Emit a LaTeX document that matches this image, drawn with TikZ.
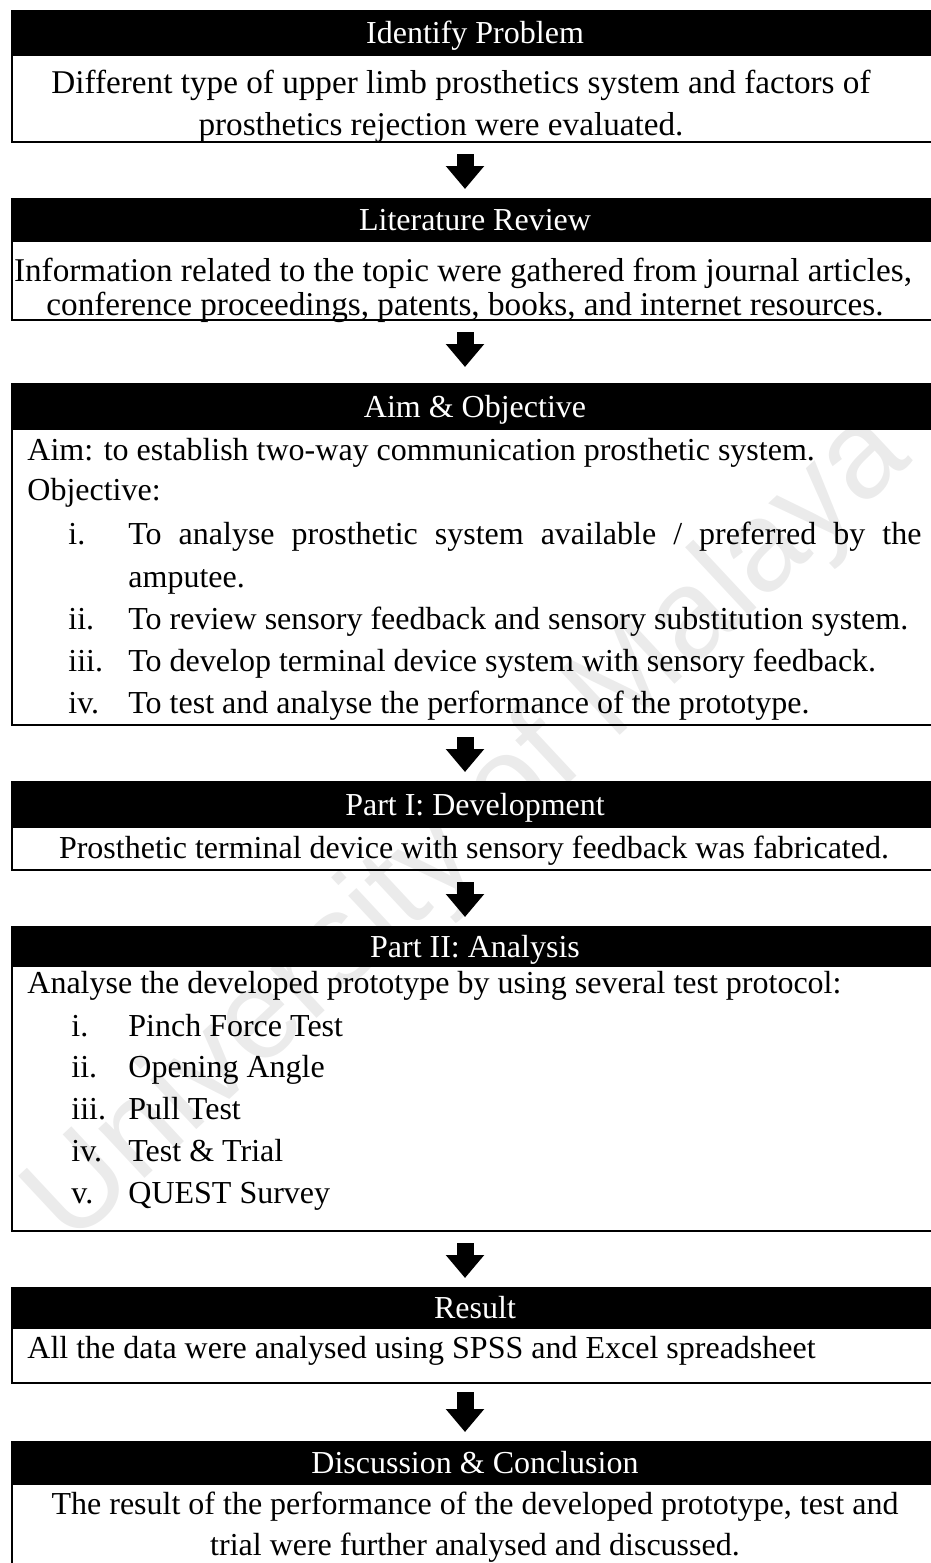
\documentclass[tikz,border=0pt]{standalone}
\usepackage{fontspec}
\setmainfont{Liberation Serif}
\newfontfamily\wmfont{Liberation Sans}
\usetikzlibrary{arrows.meta,fit}

\begin{document}
\begin{tikzpicture}[x=0.5pt, y=-0.5pt,
  headbox/.style={fill=black, draw=black, line width=1.4pt, inner sep=0pt, outer sep=0pt},
  headtxt/.style={inner sep=0pt, anchor=base, text=white, font=\fontsize{16pt}{21pt}\selectfont},
  bodybox/.style={draw=black, line width=1.4pt, inner sep=0pt, outer sep=0pt},
  txt/.style={inner sep=0pt, font=\fontsize{16pt}{21pt}\selectfont},
  bigtxt/.style={inner sep=0pt, anchor=base, font=\fontsize{16.6pt}{21pt}\selectfont},
  wmark/.style={inner sep=0pt, text=black!8, font=\wmfont\fontsize{64pt}{70pt}\selectfont},
  flow/.style={line width=8.5pt, -{Triangle[width=18.5pt,length=11.5pt]}, shorten <=6pt, shorten >=5pt}]
  \useasboundingbox (0,0) rectangle (931,1563);
  \clip (0,0) rectangle (931,1563);

  % watermark
  \node[wmark, rotate=43] (wm) at (470,830) {University of Malaya};

  % Identify Problem
  \node[headbox, fit={(12,11) (938,55)}] (prob-h) {};
  \node[headtxt] (prob-t) at (475,43.5) {Identify Problem};
  \node[bodybox, fit={(12,55) (938,142)}] (prob) {};
  \node[bigtxt] (prob-1) at (461,93) {Different type of upper limb prosthetics system and factors of};
  \node[bigtxt] (prob-2) at (441,135) {prosthetics rejection were evaluated.};

  % Literature Review
  \node[headbox, fit={(12,199) (938,241)}] (lit-h) {};
  \node[headtxt] (lit-t) at (475,230.5) {Literature Review};
  \node[bodybox, fit={(12,241) (938,320)}] (lit) {};
  \node[bigtxt] (lit-1) at (463,281) {Information related to the topic were gathered from journal articles,};
  \node[bigtxt] (lit-2) at (465,315) {conference proceedings, patents, books, and internet resources.};

  % Aim & Objective
  \node[headbox, fit={(12,384) (938,429)}] (aim-h) {};
  \node[headtxt] (aim-t) at (475,417) {Aim \& Objective};
  \node[bodybox, fit={(12,429) (938,725)}] (aim) {};
  \node[txt, anchor=base west] (aim-1) at (27,460) {Aim: to establish two-way communication prosthetic system.};
  \node[txt, anchor=base west] (aim-2) at (27,500) {Objective:};
  \node[txt, anchor=base west] (aim-i) at (68,544) {i.};
  \node[txt, anchor=base west] (aim-ia) at (128,544) {\makebox[396.5pt][s]{To analyse prosthetic system available / preferred by the}};
  \node[txt, anchor=base west] (aim-ib) at (128,587) {amputee.};
  \node[txt, anchor=base west] (aim-ii) at (68,629) {ii.};
  \node[txt, anchor=base west] (aim-iia) at (128,629) {To review sensory feedback and sensory substitution system.};
  \node[txt, anchor=base west] (aim-iii) at (68,671) {iii.};
  \node[txt, anchor=base west] (aim-iiia) at (128,671) {To develop terminal device system with sensory feedback.};
  \node[txt, anchor=base west] (aim-iv) at (68,713) {iv.};
  \node[txt, anchor=base west] (aim-iva) at (128,713) {To test and analyse the performance of the prototype.};

  % Part I: Development
  \node[headbox, fit={(12,782) (938,827)}] (dev-h) {};
  \node[headtxt] (dev-t) at (475,815) {Part I: Development};
  \node[bodybox, fit={(12,827) (938,870)}] (dev) {};
  \node[txt, anchor=base] (dev-1) at (474,858) {Prosthetic terminal device with sensory feedback was fabricated.};

  % Part II: Analysis
  \node[headbox, fit={(12,927) (938,966)}] (ana-h) {};
  \node[headtxt] (ana-t) at (475,957) {Part II: Analysis};
  \node[bodybox, fit={(12,966) (938,1231)}] (ana) {};
  \node[txt, anchor=base west] (ana-1) at (27,993) {Analyse the developed prototype by using several test protocol:};
  \node[txt, anchor=base west] (ana-i) at (71,1036) {i.};
  \node[txt, anchor=base west] (ana-ia) at (128,1036) {Pinch Force Test};
  \node[txt, anchor=base west] (ana-ii) at (71,1077) {ii.};
  \node[txt, anchor=base west] (ana-iia) at (128,1077) {Opening Angle};
  \node[txt, anchor=base west] (ana-iii) at (71,1119) {iii.};
  \node[txt, anchor=base west] (ana-iiia) at (128,1119) {Pull Test};
  \node[txt, anchor=base west] (ana-iv) at (71,1161) {iv.};
  \node[txt, anchor=base west] (ana-iva) at (128,1161) {Test \& Trial};
  \node[txt, anchor=base west] (ana-v) at (71,1203) {v.};
  \node[txt, anchor=base west] (ana-va) at (128,1203) {QUEST Survey};

  % Result
  \node[headbox, fit={(12,1288) (938,1328)}] (res-h) {};
  \node[headtxt] (res-t) at (475,1318.5) {Result};
  \node[bodybox, fit={(12,1328) (938,1383)}] (res) {};
  \node[txt, anchor=base west] (res-1) at (27,1358) {All the data were analysed using SPSS and Excel spreadsheet};

  % Discussion & Conclusion
  \node[headbox, fit={(12,1442) (938,1484)}] (dis-h) {};
  \node[headtxt] (dis-t) at (475,1473.5) {Discussion \& Conclusion};
  \node[bodybox, fit={(12,1484) (938,1600)}] (dis) {};
  \node[txt, anchor=base] (dis-1) at (475,1514) {The result of the performance of the developed prototype, test and};
  \node[txt, anchor=base] (dis-2) at (475,1555) {trial were further analysed and discussed.};

  % arrows
  \draw[flow] ([xshift=-5pt]prob.south) -- ([xshift=-5pt]lit-h.north);
  \draw[flow, shorten >=8.5pt] ([xshift=-5pt]lit.south) -- ([xshift=-5pt]aim-h.north);
  \draw[flow] ([xshift=-5pt]aim.south) -- ([xshift=-5pt]dev-h.north);
  \draw[flow] ([xshift=-5pt]dev.south) -- ([xshift=-5pt]ana-h.north);
  \draw[flow] ([xshift=-5pt]ana.south) -- ([xshift=-5pt]res-h.north);
  \draw[flow, shorten <=4.5pt] ([xshift=-5pt]res.south) -- ([xshift=-5pt]dis-h.north);
\end{tikzpicture}
\end{document}
